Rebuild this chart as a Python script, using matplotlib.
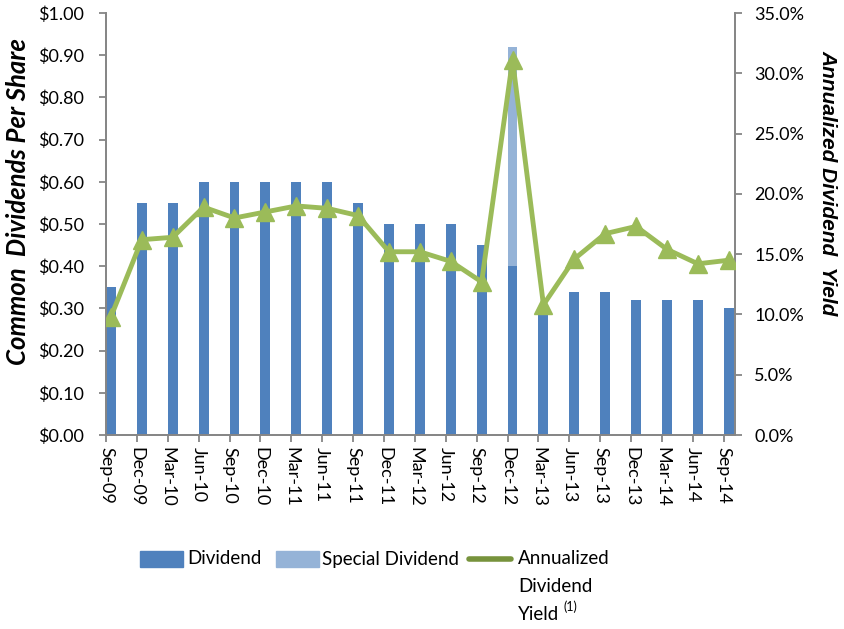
import matplotlib
matplotlib.use("Agg")
import matplotlib.pyplot as plt
import numpy as np
from matplotlib.patches import Rectangle
from matplotlib.lines import Line2D
from matplotlib.ticker import FuncFormatter

plt.rcParams['font.family'] = ['Lato', 'DejaVu Sans']

#%% data
quarters = ['Sep-09', 'Dec-09', 'Mar-10', 'Jun-10', 'Sep-10', 'Dec-10', 'Mar-11',
            'Jun-11', 'Sep-11', 'Dec-11', 'Mar-12', 'Jun-12', 'Sep-12', 'Dec-12',
            'Mar-13', 'Jun-13', 'Sep-13', 'Dec-13', 'Mar-14', 'Jun-14', 'Sep-14']
dividend = [0.35, 0.55, 0.55, 0.60, 0.60, 0.60, 0.60, 0.60, 0.55, 0.50, 0.50,
            0.50, 0.45, 0.40, 0.30, 0.34, 0.34, 0.32, 0.32, 0.32, 0.30]
special = [0, 0, 0, 0, 0, 0, 0, 0, 0, 0, 0, 0, 0, 0.52, 0, 0, 0, 0, 0, 0, 0]
yield_pct = [9.8, 16.2, 16.4, 18.9, 18.0, 18.5, 19.0, 18.8, 18.2, 15.2, 15.2,
             14.4, 12.7, 31.1, 10.8, 14.6, 16.7, 17.3, 15.4, 14.2, 14.5]

#%% plot
grey = '#868686'
blue = '#4F81BD'
light = '#95B3D7'
green = '#9BBB59'
fs = 13
x = np.arange(len(quarters))
bw = 0.32

fig = plt.figure(figsize=(8.45, 6.29), dpi=100)
ax = fig.add_axes([0.1254, 0.3084, 0.7444, 0.6709])
ax.bar(x, dividend, width=bw, align='edge', color=blue, zorder=2)
ax.bar(x, special, width=bw, align='edge', bottom=dividend, color=light, zorder=2)

ax2 = ax.twinx()
ax2.plot(x + bw / 2, yield_pct, color=green, lw=3.5, marker='^', ms=13,
         markeredgecolor=green, zorder=3)

ax.set_xlim(0, len(quarters) - 1 + 0.36)
ax.set_ylim(0, 1.0)
ax2.set_ylim(0, 35)
ax.set_yticks(np.arange(0, 1.01, 0.1))
ax2.set_yticks(np.arange(0, 35.1, 5))
ax.yaxis.set_major_formatter(FuncFormatter(lambda v, p: '${:.2f}'.format(v)))
ax2.yaxis.set_major_formatter(FuncFormatter(lambda v, p: '{:.1f}%'.format(v)))
ax.set_xticks(x)
ax.set_xticklabels(quarters, rotation=-90, fontsize=fs)

for a in (ax, ax2):
    a.spines['top'].set_visible(False)
    for s in ('left', 'right', 'bottom'):
        a.spines[s].set_color(grey)
        a.spines[s].set_linewidth(1.3)
    a.tick_params(direction='out', length=5, width=1.3, color=grey, labelsize=fs,
                  labelcolor='black')
ax.tick_params(axis='y', pad=11)
ax2.tick_params(axis='y', pad=9)

# axis titles
fig.text(0.0213, 0.679, 'Common  Dividends Per Share', fontsize=18.5,
         fontweight='bold', fontstyle='italic', rotation=90, ha='center', va='center')
fig.text(0.980, 0.709, 'Annualized Dividend  Yield', fontsize=15,
         family='Liberation Sans', fontweight='bold', fontstyle='italic',
         rotation=270, ha='center', va='center')

# legend
W, H = 845.0, 629.0
lfs = 13.5
fig.add_artist(Rectangle((140 / W, 1 - 567 / H), 43 / W, 16 / H,
                         transform=fig.transFigure, color=blue))
fig.text(187 / W, 1 - 559 / H, 'Dividend', fontsize=lfs, va='center')
fig.add_artist(Rectangle((276 / W, 1 - 567 / H), 43 / W, 16 / H,
                         transform=fig.transFigure, color=light))
fig.text(322 / W, 1 - 559 / H, 'Special Dividend', fontsize=lfs, va='center')
fig.add_artist(Line2D([469 / W, 511 / W], [1 - 559 / H] * 2, transform=fig.transFigure,
                      color='#77933C', lw=4, solid_capstyle='round'))
fig.text(518 / W, 1 - 559 / H, 'Annualized', fontsize=lfs, va='center')
fig.text(518 / W, 1 - 587 / H, 'Dividend', fontsize=lfs, va='center')
fig.text(518 / W, 1 - 615 / H, 'Yield', fontsize=lfs, va='center')
fig.text(563 / W, 1 - 607 / H, '(1)', fontsize=9, va='center')

fig.savefig('out.png', dpi=100)
